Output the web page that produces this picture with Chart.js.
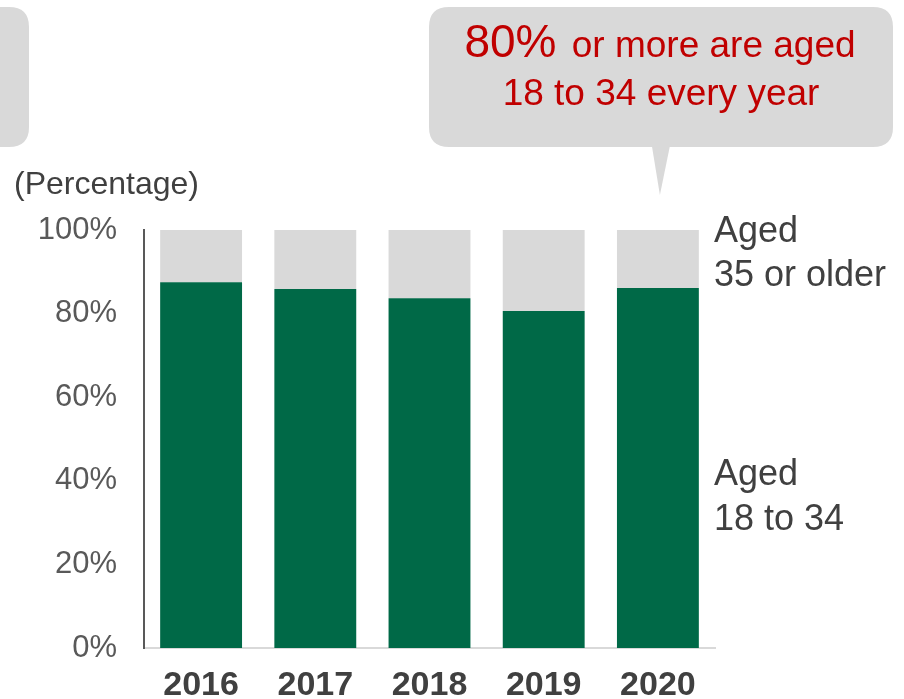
<!DOCTYPE html>
<html>
<head>
<meta charset="utf-8">
<script src="https://cdn.jsdelivr.net/npm/chart.js@4.4.1/dist/chart.umd.min.js"></script>
<style>
  html, body { margin: 0; padding: 0; background: #ffffff; }
  #wrap { position: relative; width: 904px; height: 699px; }
</style>
</head>
<body>
<div id="wrap"><canvas id="chart" width="904" height="699"></canvas></div>
<script>
// Survey years and share of respondents by age group (percent)
const years = ['2016', '2017', '2018', '2019', '2020'];
const aged18to34 = [87.5, 85.9, 83.7, 80.6, 86.1];
const aged35plus = [12.5, 14.1, 16.3, 19.4, 13.9];
const yTicks = [0, 20, 40, 60, 80, 100];

const FONT = '"Liberation Sans", Arial, sans-serif';
const GREEN = '#006947';
const LIGHT = '#d9d9d9';
const TEXT = '#404040';
const RED = '#c00000';

function roundRect(ctx, x, y, w, h, r) {
  ctx.beginPath();
  ctx.moveTo(x + r, y);
  ctx.lineTo(x + w - r, y);
  ctx.quadraticCurveTo(x + w, y, x + w, y + r);
  ctx.lineTo(x + w, y + h - r);
  ctx.quadraticCurveTo(x + w, y + h, x + w - r, y + h);
  ctx.lineTo(x + r, y + h);
  ctx.quadraticCurveTo(x, y + h, x, y + h - r);
  ctx.lineTo(x, y + r);
  ctx.quadraticCurveTo(x, y, x + r, y);
  ctx.closePath();
}

// Callout boxes, unit caption and series labels beside the last bar
const annotations = {
  id: 'annotations',
  afterDraw(chart) {
    const ctx = chart.ctx;
    const y = chart.scales.y;
    const x = chart.scales.x;
    ctx.save();

    // partial box at the left edge
    ctx.fillStyle = LIGHT;
    roundRect(ctx, -40, 7, 69, 140, 20);
    ctx.fill();

    // speech bubble above the last bar
    const bx = 429, by = 7, bw = 464, bh = 140;
    roundRect(ctx, bx, by, bw, bh, 20);
    ctx.fill();
    const tipX = x.getPixelForValue(years.length - 1) + 2;
    ctx.beginPath();
    ctx.moveTo(tipX - 8, by + bh - 1);
    ctx.lineTo(tipX + 10, by + bh - 1);
    ctx.lineTo(tipX, 195);
    ctx.closePath();
    ctx.fill();

    // bubble text
    ctx.fillStyle = RED;
    ctx.textBaseline = 'alphabetic';
    const big = '80%';
    const rest = ' or more are aged';
    ctx.font = '46px ' + FONT;
    const wBig = ctx.measureText(big).width;
    ctx.font = '37px ' + FONT;
    const wRest = ctx.measureText(rest).width + 5;
    const cx = bx + bw / 2;
    let sx = cx - (wBig + wRest) / 2;
    ctx.textAlign = 'left';
    ctx.font = '46px ' + FONT;
    ctx.fillText(big, sx - 1, 57);
    ctx.font = '37px ' + FONT;
    ctx.fillText(rest, sx + wBig + 4, 57);
    ctx.textAlign = 'center';
    ctx.fillText('18 to 34 every year', cx, 105);

    // unit caption
    ctx.fillStyle = TEXT;
    ctx.textAlign = 'left';
    ctx.textBaseline = 'middle';
    ctx.font = '32px ' + FONT;
    ctx.fillText('(Percentage)', 14, 185);

    // series labels to the right of the plot
    ctx.font = '36px ' + FONT;
    const lx = 714;
    const top = y.getPixelForValue(100);
    ctx.fillText('Aged', lx, top + 2);
    ctx.fillText('35 or older', lx, top + 46);
    const mid = y.getPixelForValue(42.5);
    ctx.fillText('Aged', lx, mid + 5);
    ctx.fillText('18 to 34', lx, mid + 50);

    ctx.restore();
  }
};

new Chart(document.getElementById('chart'), {
  type: 'bar',
  data: {
    labels: years,
    datasets: [
      {
        label: 'Aged 18 to 34',
        data: aged18to34,
        backgroundColor: GREEN,
        borderWidth: 0,
        barPercentage: 0.717,
        categoryPercentage: 1.0
      },
      {
        label: 'Aged 35 or older',
        data: aged35plus,
        backgroundColor: LIGHT,
        borderWidth: 0,
        barPercentage: 0.717,
        categoryPercentage: 1.0
      }
    ]
  },
  options: {
    responsive: false,
    animation: false,
    devicePixelRatio: 1,
    layout: { padding: { top: 230, right: 189, left: 0, bottom: 0 } },
    plugins: {
      legend: { display: false },
      tooltip: { enabled: false }
    },
    scales: {
      x: {
        stacked: true,
        grid: { display: false, drawTicks: false },
        border: { display: true, color: LIGHT, width: 2 },
        ticks: {
          color: TEXT,
          padding: 17,
          font: { family: FONT, size: 34, weight: 'bold' }
        },
        afterFit(scale) { scale.height = 51; }
      },
      y: {
        stacked: true,
        min: 0,
        max: 100,
        afterBuildTicks(scale) { scale.ticks = yTicks.map(v => ({ value: v })); },
        grid: { display: false, drawTicks: false },
        border: { display: true, color: '#595959', width: 2 },
        ticks: {
          color: '#595959',
          padding: 27,
          font: { family: FONT, size: 31 },
          callback: v => v + '%'
        },
        afterFit(scale) { scale.width = 144; }
      }
    }
  },
  plugins: [annotations]
});
</script>
</body>
</html>
